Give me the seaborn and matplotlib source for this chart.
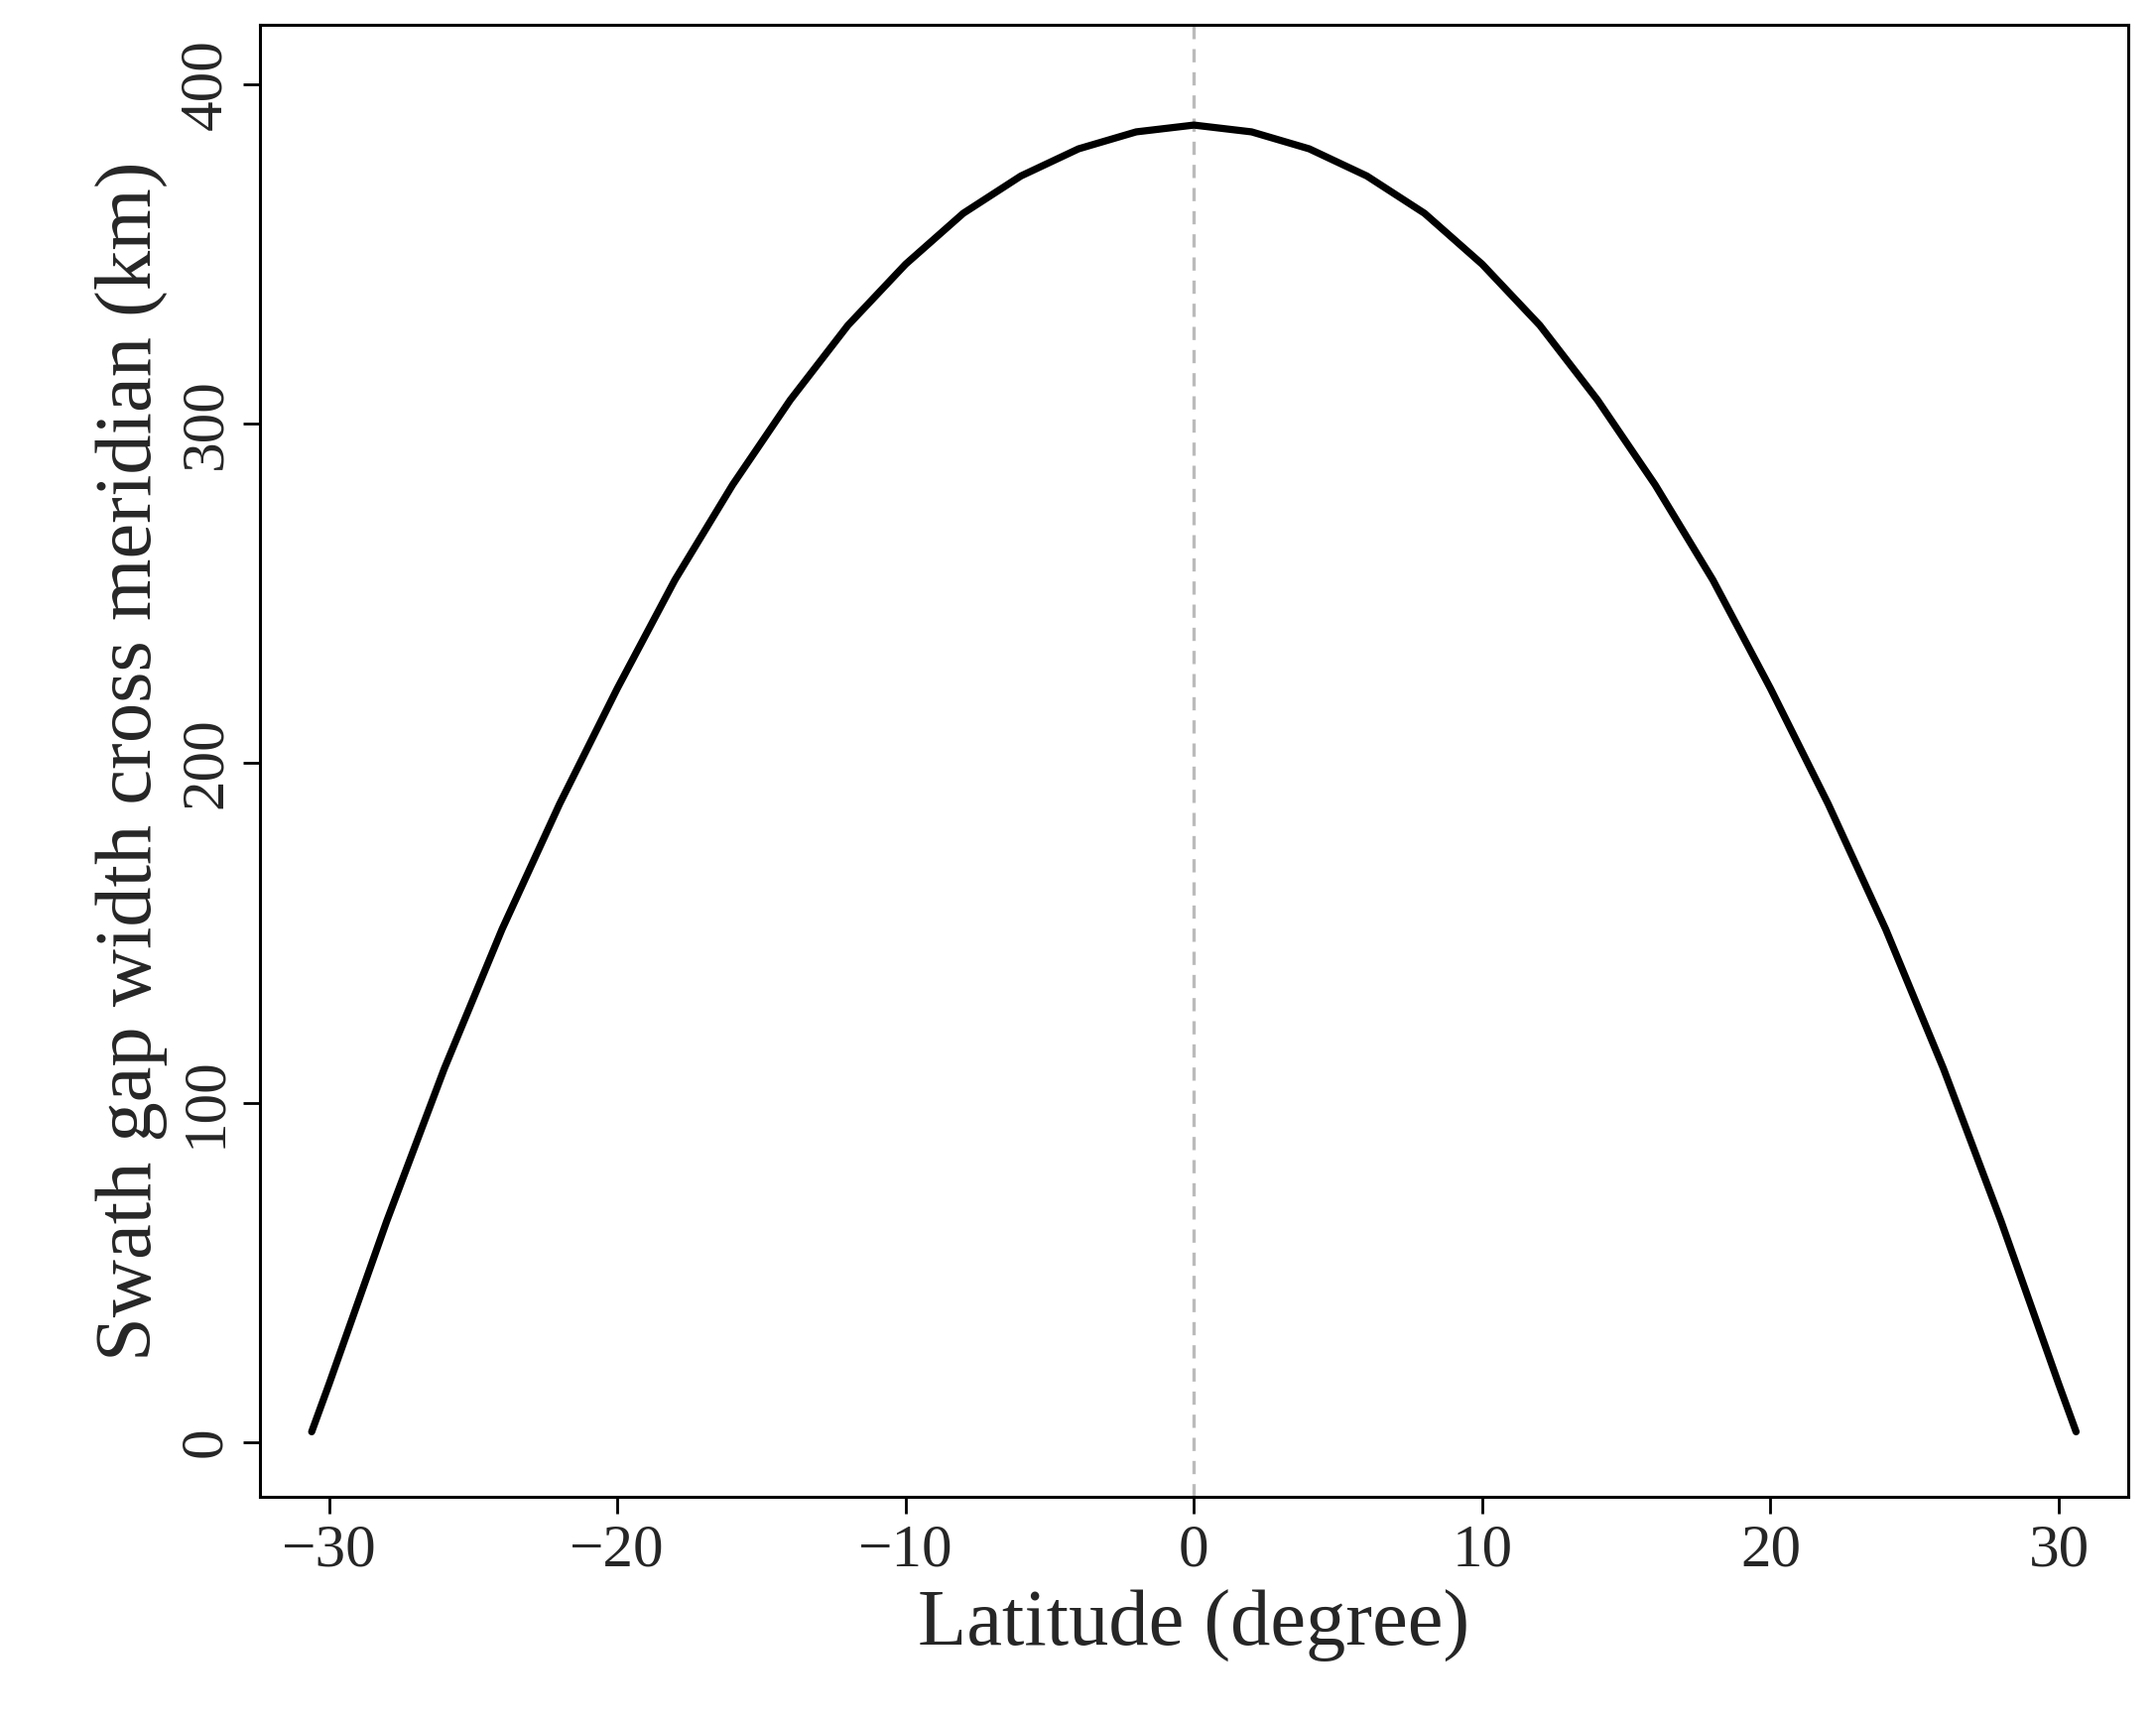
import matplotlib
matplotlib.use("Agg")
import matplotlib.pyplot as plt
import seaborn as sns
import pandas as pd

lat = [-30.6, -30, -28, -26, -24, -22, -20, -18, -16, -14, -12, -10, -8, -6, -4, -2, 0,
       2, 4, 6, 8, 10, 12, 14, 16, 18, 20, 22, 24, 26, 28, 30, 30.6]
gap = [3, 17, 65, 110, 151, 188, 222, 254, 282, 307, 329, 347, 362, 373, 381, 386, 388,
       386, 381, 373, 362, 347, 329, 307, 282, 254, 222, 188, 151, 110, 65, 17, 3]
xticks = [-30, -20, -10, 0, 10, 20, 30]
yticks = [0, 100, 200, 300, 400]

sns.set_theme(style="white")
plt.rcParams['font.family'] = ['Liberation Serif', 'DejaVu Serif']
plt.rcParams['axes.unicode_minus'] = True

fig = plt.figure(figsize=(10.865, 8.675), dpi=200)
ax = fig.add_axes([0.1205, 0.13, 0.8665, 0.8555])
df = pd.DataFrame({"lat": lat, "gap": gap})
sns.lineplot(data=df, x="lat", y="gap", ax=ax, color="black", linewidth=2.6,
             solid_capstyle="round", sort=False)
ax.axvline(0, color="#bbbbbb", linestyle=(0, (4, 3)), linewidth=1.2, zorder=0)
ax.set_xlim(-32.4, 32.4)
ax.set_ylim(-16.3, 417.5)
ax.set_xticks(xticks)
ax.set_yticks(yticks)
ax.set_xticklabels([str(t).replace('-', '\u2212') for t in xticks], fontsize=22)
ax.set_yticklabels([str(t) for t in yticks], fontsize=22, rotation=90, va="center")
ax.tick_params(axis="both", direction="out", length=6, width=1, color="black",
               bottom=True, left=True)
ax.set_xlabel("Latitude (degree)", fontsize=29)
ax.set_ylabel("Swath gap width cross meridian (km)", fontsize=29)
for s in ax.spines.values():
    s.set_color("black")
    s.set_linewidth(1.1)
fig.savefig("out.png", dpi=200)
